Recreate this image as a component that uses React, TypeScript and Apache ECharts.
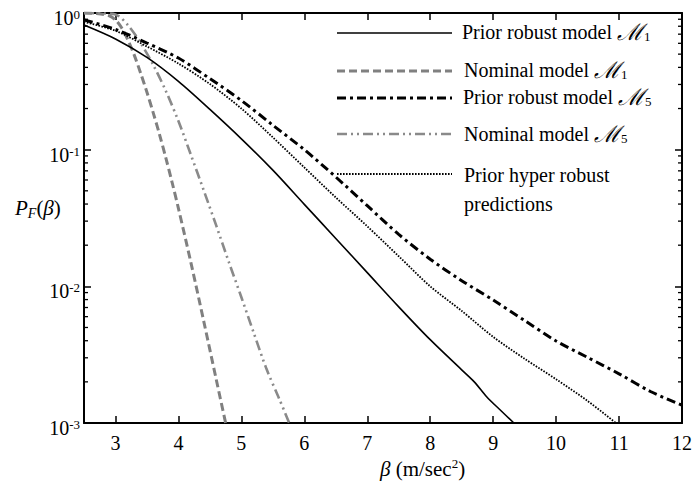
import React, { useEffect, useRef } from 'react';
import * as echarts from 'echarts';

const FONT = 'Liberation Serif, Times New Roman, DejaVu Serif, serif';

const X_MIN = 2.5;
const X_MAX = 12;
const Y_MIN = 0.001;
const Y_MAX = 1;

const xTicks = [3, 4, 5, 6, 7, 8, 9, 10, 11, 12];
const yMinorTicks = [
  0.002, 0.003, 0.004, 0.005, 0.006, 0.007, 0.008, 0.009,
  0.02, 0.03, 0.04, 0.05, 0.06, 0.07, 0.08, 0.09,
  0.2, 0.3, 0.4, 0.5, 0.6, 0.7, 0.8, 0.9,
];

const betaRobustM1 = [2.5, 3.0, 3.5, 4.0, 4.5, 5.0, 5.5, 6.0, 6.5, 7.0, 7.5, 8.0, 8.5, 8.7, 8.9, 9.1, 9.33];
const pRobustM1 = [0.817, 0.646, 0.473, 0.316, 0.197, 0.12, 0.0708, 0.0398, 0.0224, 0.0126, 0.00708, 0.00407, 0.00245, 0.002, 0.00155, 0.00126, 0.001];

const betaNominalM1 = [2.5, 2.7, 2.9, 3.0, 3.1, 3.2, 3.3, 3.4, 3.5, 3.6, 3.7, 3.8, 3.9, 4.0, 4.2, 4.4, 4.6, 4.75];
const pNominalM1 = [0.998, 0.99, 0.955, 0.891, 0.776, 0.631, 0.49, 0.363, 0.263, 0.186, 0.129, 0.0871, 0.0575, 0.0372, 0.0148, 0.00562, 0.00209, 0.001];

const betaRobustM5 = [2.5, 3.0, 3.5, 4.0, 4.5, 5.0, 5.5, 6.0, 6.5, 7.0, 7.5, 8.0, 8.5, 9.0, 9.5, 10.0, 10.5, 11.0, 11.5, 12.0];
const pRobustM5 = [0.891, 0.759, 0.603, 0.468, 0.331, 0.229, 0.151, 0.1, 0.0631, 0.0389, 0.024, 0.0158, 0.011, 0.00794, 0.00562, 0.00398, 0.00302, 0.00229, 0.0017, 0.00135];

const betaNominalM5 = [2.5, 2.8, 3.0, 3.2, 3.4, 3.6, 3.8, 4.0, 4.2, 4.4, 4.6, 4.8, 5.0, 5.2, 5.4, 5.6, 5.76];
const pNominalM5 = [0.999, 0.993, 0.977, 0.813, 0.603, 0.417, 0.269, 0.162, 0.0912, 0.0507, 0.0279, 0.0151, 0.00832, 0.00452, 0.00248, 0.00151, 0.001];

const betaHyper = [2.5, 3.0, 3.5, 4.0, 4.5, 5.0, 5.5, 6.0, 6.5, 7.0, 7.5, 8.0, 8.5, 9.0, 9.5, 10.0, 10.5, 10.95];
const pHyper = [0.861, 0.741, 0.569, 0.427, 0.302, 0.2, 0.123, 0.0741, 0.0447, 0.0275, 0.0166, 0.01, 0.00661, 0.00427, 0.00295, 0.00209, 0.00145, 0.001];

const pairs = (xs: number[], ys: number[]) => xs.map((x, i) => [x, ys[i]]);

const STYLE_ROBUST_M1 = { color: '#000', width: 1.6, type: 'solid' as any };
const STYLE_NOMINAL_M1 = { color: '#808080', width: 3, type: [8, 4] as any };
const STYLE_ROBUST_M5 = { color: '#000', width: 3, type: [9, 4, 3, 4] as any };
const STYLE_NOMINAL_M5 = { color: '#8a8a8a', width: 2.6, type: [10, 4, 2, 4, 2, 4] as any };
const STYLE_HYPER = { color: '#000', width: 1.8, type: [1.6, 1.4] as any };

const textRich = {
  n: { fontSize: 20, fontFamily: FONT, color: '#000', lineHeight: 22, verticalAlign: 'middle' },
  m: { fontSize: 23, fontFamily: 'DejaVu Serif, serif', fontStyle: 'italic', color: '#000', lineHeight: 22, verticalAlign: 'middle' },
  sub: { fontSize: 13, fontFamily: FONT, color: '#000', lineHeight: 14, verticalAlign: 'bottom' },
};

function legendRow(y: number, textY: number, textX: number, label: string, sub: string | null, ls: any) {
  const dash = Array.isArray(ls.type) ? ls.type : null;
  const els: any[] = [
    {
      type: 'line',
      shape: { x1: 337, y1: y, x2: 452, y2: y },
      style: { stroke: ls.color, lineWidth: ls.width, lineDash: dash },
      silent: true,
    },
  ];
  const txt = sub ? `{n|${label} }{m|ℳ}{sub|${sub}}` : `{n|${label}}`;
  els.push({
    type: 'text',
    x: textX,
    y: textY,
    style: { text: txt, rich: textRich, verticalAlign: 'middle', align: 'left' },
    silent: true,
  });
  return els;
}

const TICK_COLOR = '#000';

export default function App() {
  const ref = useRef<HTMLDivElement>(null);
  useEffect(() => {
    if (!ref.current) return;
    const chart = echarts.init(ref.current, null, { renderer: 'svg' });
    const option: any = {
      animation: false,
      grid: { left: 84, right: 14, top: 13, bottom: 70, containLabel: false, outerBoundsMode: 'none' },
      xAxis: [
        {
          type: 'value', min: X_MIN, max: X_MAX, position: 'bottom',
          axisLine: { show: true, onZero: false, lineStyle: { color: '#000', width: 2 } },
          axisTick: { show: true, inside: true, length: 7, customValues: xTicks, lineStyle: { color: TICK_COLOR, width: 1.5 } },
          axisLabel: { customValues: xTicks, fontSize: 20, fontFamily: FONT, color: '#000', margin: 10 },
          splitLine: { show: false },
        },
        {
          type: 'value', min: X_MIN, max: X_MAX, position: 'top',
          axisLine: { show: true, onZero: false, lineStyle: { color: '#000', width: 2 } },
          axisTick: { show: true, inside: true, length: 7, customValues: xTicks, lineStyle: { color: TICK_COLOR, width: 1.5 } },
          axisLabel: { show: false, customValues: xTicks },
          splitLine: { show: false },
        },
      ],
      yAxis: [
        {
          type: 'log', min: Y_MIN, max: Y_MAX, position: 'left',
          axisLine: { show: true, onZero: false, lineStyle: { color: '#000', width: 2 } },
          axisTick: { show: true, inside: true, length: 7, lineStyle: { color: TICK_COLOR, width: 1.5 } },
          axisLabel: {
            margin: 4,
            padding: [10, 0, 0, 0],
            formatter: (v: number) => `{b|10}{s|${Math.round(Math.log10(v))}}`,
            rich: {
              b: { fontSize: 20, fontFamily: FONT, color: '#000', lineHeight: 20, verticalAlign: 'bottom' },
              s: { fontSize: 13, fontFamily: FONT, color: '#000', lineHeight: 12, verticalAlign: 'top' },
            },
          },
          splitLine: { show: false },
        },
        {
          type: 'log', min: Y_MIN, max: Y_MAX, position: 'right',
          axisLine: { show: true, onZero: false, lineStyle: { color: '#000', width: 2 } },
          axisTick: { show: true, inside: true, length: 7, lineStyle: { color: TICK_COLOR, width: 1.5 } },
          axisLabel: { show: false },
          splitLine: { show: false },
        },
      ],
      series: [
        { name: 'Nominal model M1', type: 'line', data: pairs(betaNominalM1, pNominalM1), showSymbol: false, symbol: 'none', smooth: 0.3, lineStyle: STYLE_NOMINAL_M1, z: 2 },
        { name: 'Nominal model M5', type: 'line', data: pairs(betaNominalM5, pNominalM5), showSymbol: false, symbol: 'none', smooth: 0.3, lineStyle: STYLE_NOMINAL_M5, z: 2 },
        { name: 'Prior robust model M1', type: 'line', data: pairs(betaRobustM1, pRobustM1), showSymbol: false, symbol: 'none', smooth: 0.3, lineStyle: STYLE_ROBUST_M1, z: 3 },
        { name: 'Prior robust model M5', type: 'line', data: pairs(betaRobustM5, pRobustM5), showSymbol: false, symbol: 'none', smooth: 0.3, lineStyle: STYLE_ROBUST_M5, z: 3 },
        { name: 'Prior hyper robust predictions', type: 'line', data: pairs(betaHyper, pHyper), showSymbol: false, symbol: 'none', smooth: 0.3, lineStyle: STYLE_HYPER, z: 3 },
        {
          type: 'custom',
          clip: false,
          data: yMinorTicks.map((v) => [X_MIN, v]),
          renderItem: (params: any, api: any) => {
            const v = api.value(1);
            const pL = api.coord([X_MIN, v]);
            const pR = api.coord([X_MAX, v]);
            return {
              type: 'group',
              children: [
                { type: 'line', shape: { x1: pL[0], y1: pL[1], x2: pL[0] + 4, y2: pL[1] }, style: { stroke: TICK_COLOR, lineWidth: 1.3 } },
                { type: 'line', shape: { x1: pR[0] - 4, y1: pR[1], x2: pR[0], y2: pR[1] }, style: { stroke: TICK_COLOR, lineWidth: 1.3 } },
              ],
            };
          },
          z: 5,
        },
      ],
      graphic: [
        ...legendRow(33, 32, 462, 'Prior robust model', '1', STYLE_ROBUST_M1),
        ...legendRow(71, 70, 464, 'Nominal model', '1', STYLE_NOMINAL_M1),
        ...legendRow(98, 97, 463, 'Prior robust model', '5', STYLE_ROBUST_M5),
        ...legendRow(134, 134, 464, 'Nominal model', '5', STYLE_NOMINAL_M5),
        ...legendRow(174, 175, 464, 'Prior hyper robust', null, STYLE_HYPER),
        {
          type: 'text', x: 464, y: 204, silent: true,
          style: { text: '{n|predictions}', rich: textRich, verticalAlign: 'middle', align: 'left' },
        },
        {
          type: 'text', x: 15, y: 208, silent: true,
          style: {
            text: '{i|P}{sub|F}{n|(}{i|β}{n|)}',
            verticalAlign: 'middle', align: 'left',
            rich: {
              i: { fontSize: 21, fontFamily: FONT, fontStyle: 'italic', color: '#000', lineHeight: 24, verticalAlign: 'middle' },
              n: { fontSize: 21, fontFamily: FONT, color: '#000', lineHeight: 24, verticalAlign: 'middle' },
              sub: { fontSize: 14, fontFamily: FONT, fontStyle: 'italic', color: '#000', lineHeight: 14, verticalAlign: 'bottom' },
            },
          },
        },
        {
          type: 'text', x: 380, y: 469, silent: true,
          style: {
            text: '{i|β}{n| (m/sec}{s|2}{n|)}',
            verticalAlign: 'middle', align: 'left',
            rich: {
              i: { fontSize: 21, fontFamily: FONT, fontStyle: 'italic', color: '#000', lineHeight: 24, verticalAlign: 'middle' },
              n: { fontSize: 21, fontFamily: FONT, color: '#000', lineHeight: 24, verticalAlign: 'middle' },
              s: { fontSize: 13, fontFamily: FONT, color: '#000', lineHeight: 14, verticalAlign: 'top' },
            },
          },
        },
      ],
    };
    chart.setOption(option);
    return () => chart.dispose();
  }, []);
  return <div ref={ref} style={{ width: 696, height: 493, position: 'absolute', left: 0, top: 0 }} />;
}
